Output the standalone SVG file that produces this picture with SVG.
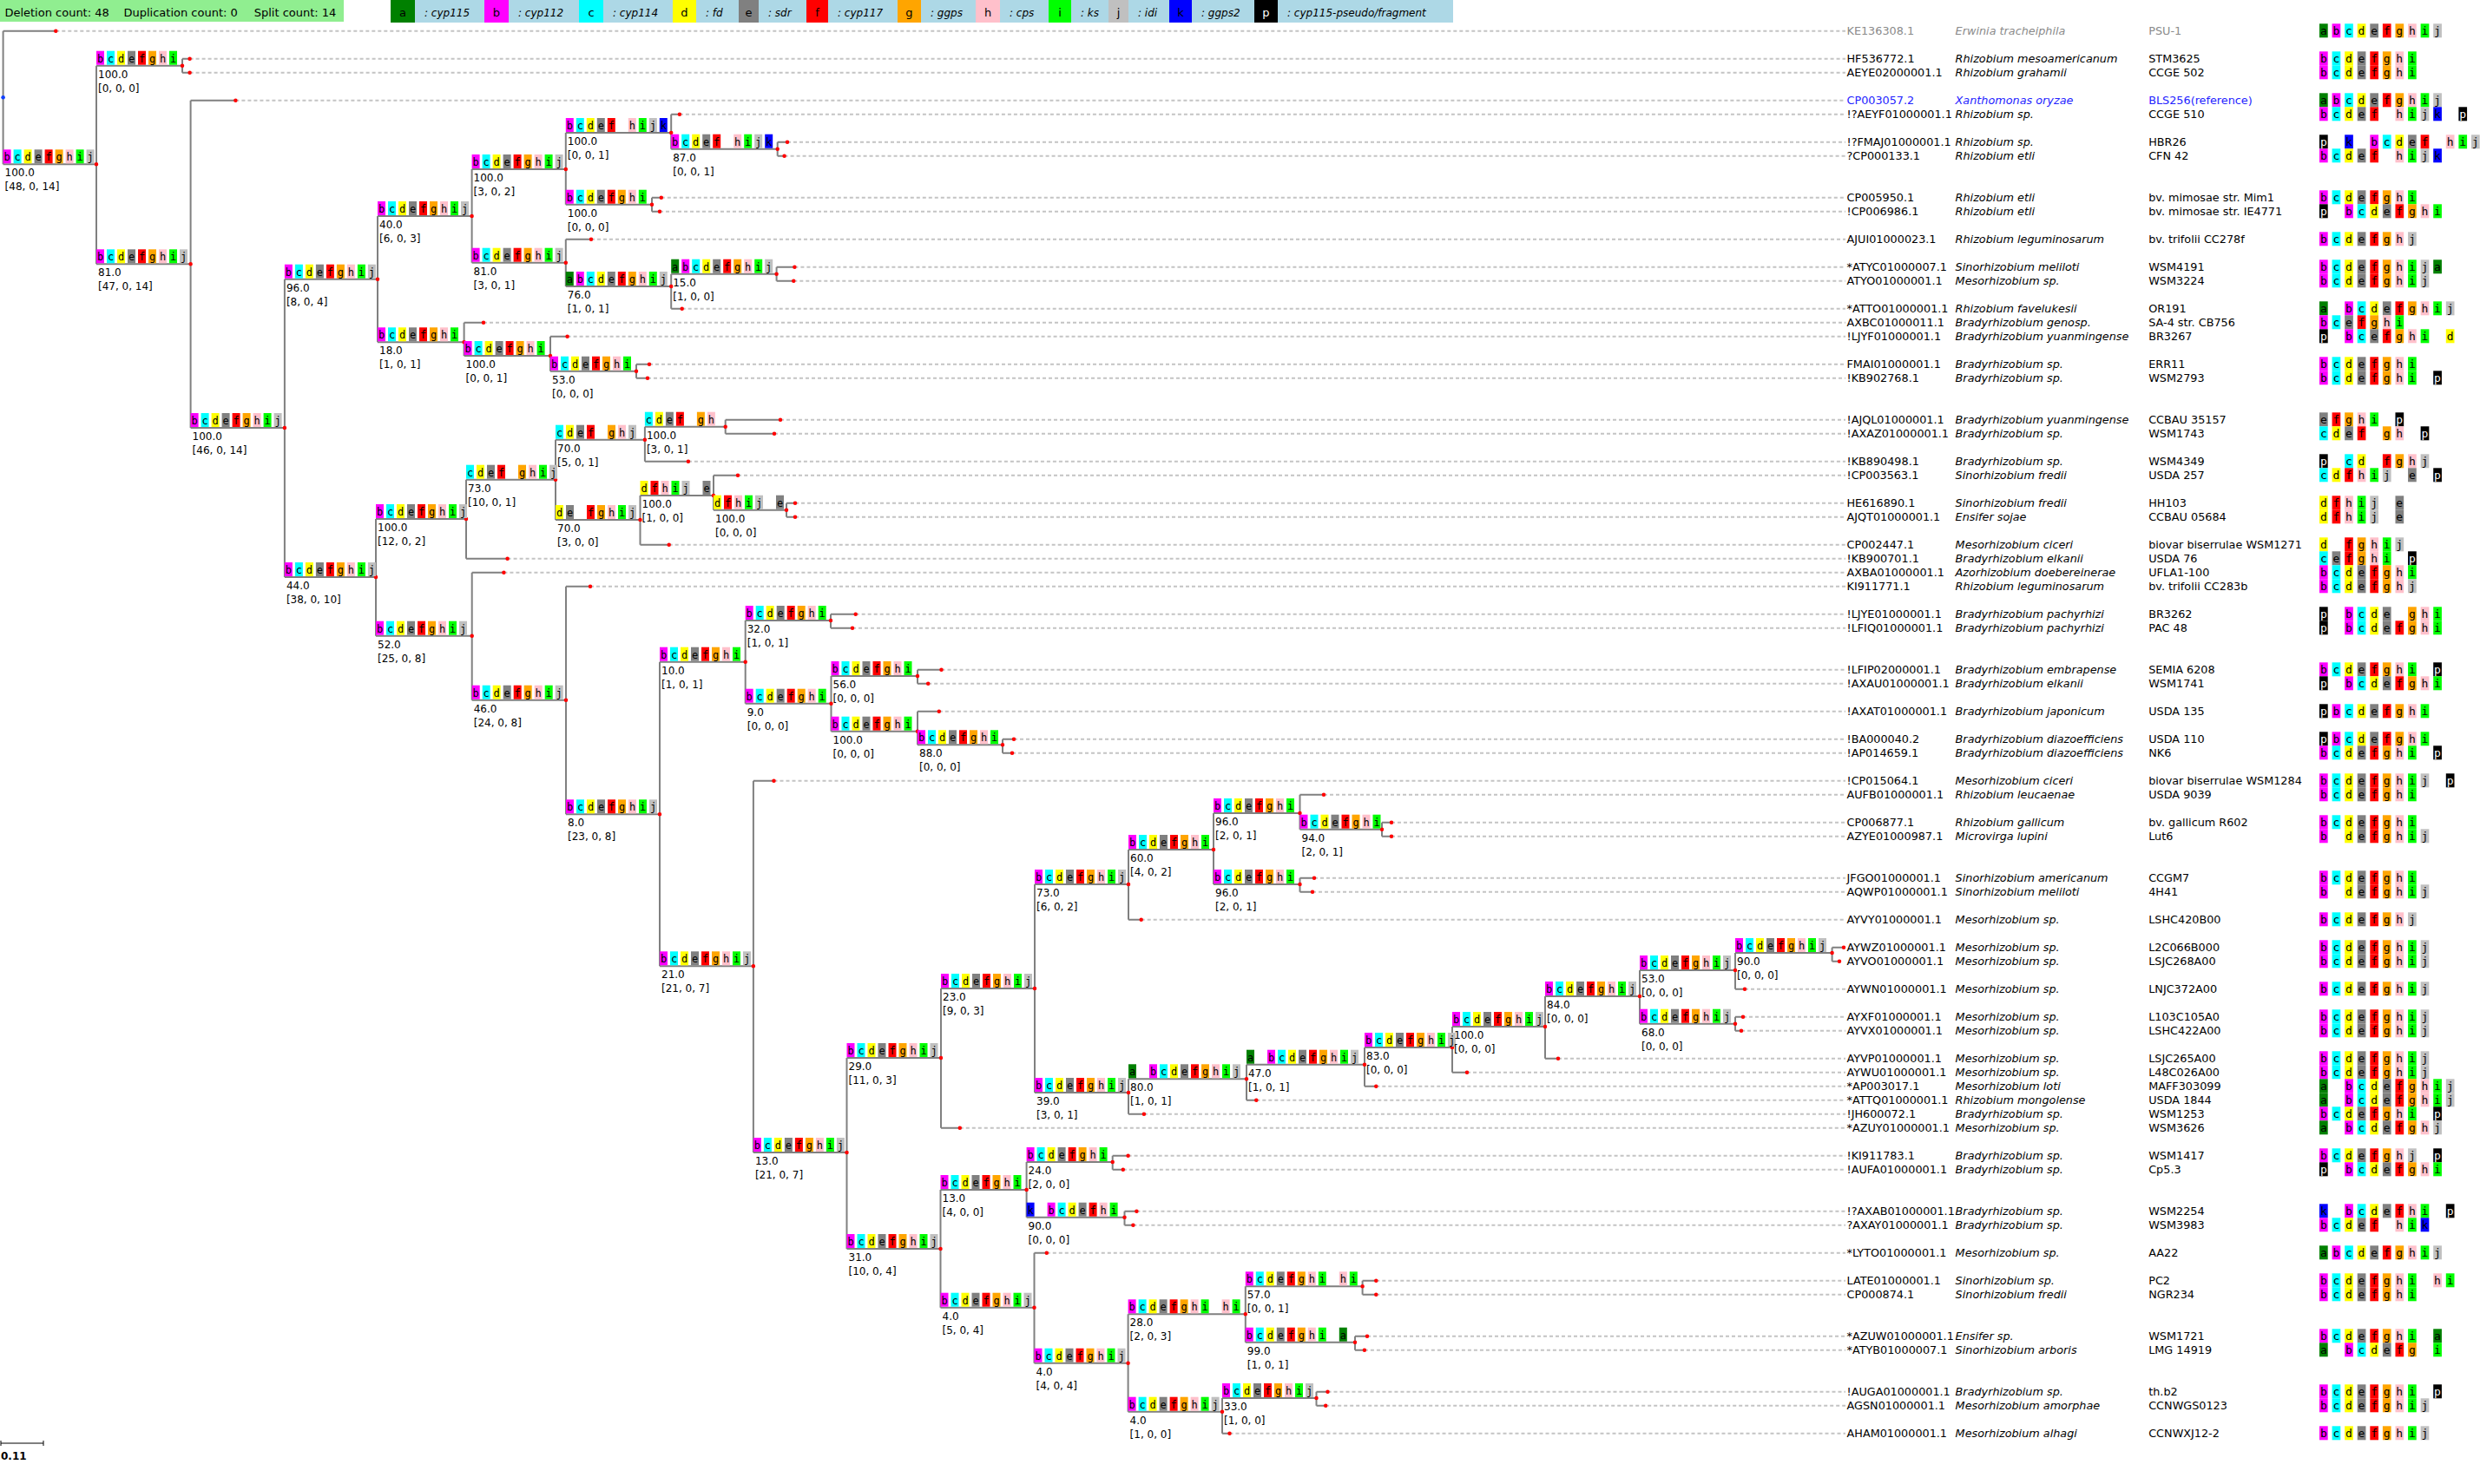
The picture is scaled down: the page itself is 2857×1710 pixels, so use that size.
<svg xmlns="http://www.w3.org/2000/svg" xmlns:xlink="http://www.w3.org/1999/xlink" width="2857" height="1710" viewBox="0 0 2857 1710">
<style>
text{font-family:"DejaVu Sans",Verdana,sans-serif;fill:#000}
.nt{font-size:12px}
.lt{font-size:12.8px}
.sp{font-style:italic}
.gr{fill:#8a8a8a}
.bl{fill:#2424ff}
.gl{font-family:"DejaVu Sans Mono",monospace;font-size:12px;letter-spacing:4.775px;white-space:pre}
.ll{font-family:"DejaVu Sans Mono",monospace;font-size:13px;letter-spacing:6.75px;white-space:pre}
.w{fill:#fff}
.hd{font-size:13px}
.lg{font-size:12px;font-style:italic}
.lc{font-size:13px;text-anchor:middle}
.e{stroke:#808080;stroke-width:2;fill:none}
.ds{stroke:#c4c4c4;stroke-width:2;stroke-dasharray:4 3;fill:none}
.dt{stroke:#f00;stroke-width:4.5;stroke-linecap:round;fill:none}
</style>
<defs>
<rect id="ma" width="9" height="16" fill="#008000"/><rect id="mb" width="9" height="16" fill="#f0f"/><rect id="mc" width="9" height="16" fill="#0ff"/><rect id="md" width="9" height="16" fill="#ff0"/><rect id="me" width="9" height="16" fill="#808080"/><rect id="mf" width="9" height="16" fill="#f00"/><rect id="mg" width="9" height="16" fill="#ffa500"/><rect id="mh" width="9" height="16" fill="#ffc0cb"/><rect id="mi" width="9" height="16" fill="#0f0"/><rect id="mj" width="9" height="16" fill="#c0c0c0"/><rect id="mk" width="9" height="16" fill="#00f"/><rect id="mp" width="9" height="16" fill="#000"/>
<rect id="la" width="9.7" height="16" fill="#008000"/><rect id="lb" width="9.7" height="16" fill="#f0f"/><rect id="lc" width="9.7" height="16" fill="#0ff"/><rect id="ld" width="9.7" height="16" fill="#ff0"/><rect id="le" width="9.7" height="16" fill="#808080"/><rect id="lf" width="9.7" height="16" fill="#f00"/><rect id="lg" width="9.7" height="16" fill="#ffa500"/><rect id="lh" width="9.7" height="16" fill="#ffc0cb"/><rect id="li" width="9.7" height="16" fill="#0f0"/><rect id="lj" width="9.7" height="16" fill="#c0c0c0"/><rect id="lk" width="9.7" height="16" fill="#00f"/><rect id="lp" width="9.7" height="16" fill="#000"/>
<g id="N8"><use href="#mb"/><use href="#mc" x="12"/><use href="#md" x="24"/><use href="#me" x="36"/><use href="#mf" x="48"/><use href="#mg" x="60"/><use href="#mh" x="72"/><use href="#mi" x="84"/></g>
<g id="N9"><use href="#N8"/><use href="#mj" x="96"/></g>
<g id="Nk"><use href="#mb"/><use href="#mc" x="12"/><use href="#md" x="24"/><use href="#me" x="36"/><use href="#mf" x="48"/><use href="#mh" x="72"/><use href="#mi" x="84"/><use href="#mj" x="96"/><use href="#mk" x="108"/></g>
<g id="Na"><use href="#ma"/><use href="#N9" x="12"/></g>
<g id="Nab"><use href="#ma"/><use href="#N9" x="24"/></g>
<g id="Nc9"><use href="#mc"/><use href="#md" x="12"/><use href="#me" x="24"/><use href="#mf" x="36"/><use href="#mg" x="60"/><use href="#mh" x="72"/><use href="#mi" x="84"/><use href="#mj" x="96"/></g>
<g id="Nc8"><use href="#mc"/><use href="#md" x="12"/><use href="#me" x="24"/><use href="#mf" x="36"/><use href="#mg" x="60"/><use href="#mh" x="72"/><use href="#mj" x="84"/></g>
<g id="Nc7"><use href="#mc"/><use href="#md" x="12"/><use href="#me" x="24"/><use href="#mf" x="36"/><use href="#mg" x="60"/><use href="#mh" x="72"/></g>
<g id="Nde"><use href="#md"/><use href="#me" x="12"/><use href="#mf" x="36"/><use href="#mg" x="48"/><use href="#mh" x="60"/><use href="#mi" x="72"/><use href="#mj" x="84"/></g>
<g id="Nd"><use href="#md"/><use href="#mf" x="12"/><use href="#mh" x="24"/><use href="#mi" x="36"/><use href="#mj" x="48"/><use href="#me" x="72"/></g>
<g id="Nkb"><use href="#mk"/><use href="#mb" x="24"/><use href="#mc" x="36"/><use href="#md" x="48"/><use href="#me" x="60"/><use href="#mf" x="72"/><use href="#mh" x="84"/><use href="#mi" x="96"/></g>
<g id="Nhi"><use href="#N8"/><use href="#mh" x="108"/><use href="#mi" x="120"/></g>
<g id="Nba"><use href="#N8"/><use href="#ma" x="108"/></g>
<g id="L8"><use href="#lb"/><use href="#lc" x="14.58"/><use href="#ld" x="29.16"/><use href="#le" x="43.74"/><use href="#lf" x="58.32"/><use href="#lg" x="72.9"/><use href="#lh" x="87.48"/><use href="#li" x="102.06"/></g>
<g id="L9"><use href="#L8"/><use href="#lj" x="116.64"/></g>
<g id="L10"><use href="#la"/><use href="#L9" x="14.58"/></g>
<g id="L8j"><use href="#lb"/><use href="#lc" x="14.58"/><use href="#ld" x="29.16"/><use href="#le" x="43.74"/><use href="#lf" x="58.32"/><use href="#lg" x="72.9"/><use href="#lh" x="87.48"/><use href="#lj" x="102.06"/></g>
<g id="LBp"><use href="#L8"/><use href="#lp" x="131.22"/></g>
<g id="LpB"><use href="#lp"/><use href="#L8" x="29.16"/></g>
<g id="LpC"><use href="#lp"/><use href="#L8" x="14.58"/></g>
<g id="LaB"><use href="#la"/><use href="#L9" x="29.16"/></g>
<g id="LA"><use href="#L9"/><use href="#la" x="131.22"/></g>
<g id="Lx10"><use href="#L9"/><use href="#lp" x="145.8"/></g>
<g id="Lbd"><use href="#lb"/><use href="#ld" x="29.16"/><use href="#le" x="43.74"/><use href="#lf" x="58.32"/><use href="#lg" x="72.9"/><use href="#lh" x="87.48"/><use href="#li" x="102.06"/><use href="#lj" x="116.64"/></g>
<g id="Lk3"><use href="#lb"/><use href="#lc" x="14.58"/><use href="#ld" x="29.16"/><use href="#le" x="43.74"/><use href="#lf" x="58.32"/><use href="#lh" x="87.48"/><use href="#li" x="102.06"/><use href="#lj" x="116.64"/><use href="#lk" x="131.22"/></g>
<g id="Lk1"><use href="#Lk3"/><use href="#lp" x="160.38"/></g>
<g id="Lk2"><use href="#lp"/><use href="#lk" x="29.16"/><use href="#lb" x="58.32"/><use href="#lc" x="72.9"/><use href="#ld" x="87.48"/><use href="#le" x="102.06"/><use href="#lf" x="116.64"/><use href="#lh" x="145.8"/><use href="#li" x="160.38"/><use href="#lj" x="174.96"/></g>
<g id="Lx1"><use href="#lb"/><use href="#lc" x="14.58"/><use href="#le" x="29.16"/><use href="#lf" x="43.74"/><use href="#lg" x="58.32"/><use href="#lh" x="72.9"/><use href="#li" x="87.48"/></g>
<g id="Lx2"><use href="#lp"/><use href="#Lx1" x="29.16"/><use href="#ld" x="145.8"/></g>
<g id="Lx3"><use href="#le"/><use href="#lf" x="14.58"/><use href="#lg" x="29.16"/><use href="#lh" x="43.74"/><use href="#li" x="58.32"/><use href="#lp" x="87.48"/></g>
<g id="Lx4"><use href="#lc"/><use href="#ld" x="14.58"/><use href="#le" x="29.16"/><use href="#lf" x="43.74"/><use href="#lg" x="72.9"/><use href="#lh" x="87.48"/><use href="#lp" x="116.64"/></g>
<g id="Lx5"><use href="#lp"/><use href="#lc" x="29.16"/><use href="#ld" x="43.74"/><use href="#lf" x="72.9"/><use href="#lg" x="87.48"/><use href="#lh" x="102.06"/><use href="#lj" x="116.64"/></g>
<g id="Lx6"><use href="#lc"/><use href="#ld" x="14.58"/><use href="#lf" x="29.16"/><use href="#lh" x="43.74"/><use href="#li" x="58.32"/><use href="#lj" x="72.9"/><use href="#le" x="102.06"/><use href="#lp" x="131.22"/></g>
<g id="Ld"><use href="#ld"/><use href="#lf" x="14.58"/><use href="#lh" x="29.16"/><use href="#li" x="43.74"/><use href="#lj" x="58.32"/><use href="#le" x="87.48"/></g>
<g id="Lx7"><use href="#ld"/><use href="#lf" x="29.16"/><use href="#lg" x="43.74"/><use href="#lh" x="58.32"/><use href="#li" x="72.9"/><use href="#lj" x="87.48"/></g>
<g id="Lx8"><use href="#lc"/><use href="#le" x="14.58"/><use href="#lf" x="29.16"/><use href="#lg" x="43.74"/><use href="#lh" x="58.32"/><use href="#li" x="72.9"/><use href="#lp" x="102.06"/></g>
<g id="Lx9"><use href="#lp"/><use href="#lb" x="29.16"/><use href="#lc" x="43.74"/><use href="#ld" x="58.32"/><use href="#le" x="72.9"/><use href="#lg" x="102.06"/><use href="#lh" x="116.64"/><use href="#li" x="131.22"/></g>
<g id="Lx11"><use href="#la"/><use href="#L8j" x="29.16"/></g>
<g id="Lx12"><use href="#L8j"/><use href="#lp" x="131.22"/></g>
<g id="Lx13"><use href="#lk"/><use href="#lb" x="29.16"/><use href="#lc" x="43.74"/><use href="#ld" x="58.32"/><use href="#le" x="72.9"/><use href="#lf" x="87.48"/><use href="#lh" x="102.06"/><use href="#li" x="116.64"/><use href="#lp" x="145.8"/></g>
<g id="Lx14"><use href="#lb"/><use href="#lc" x="14.58"/><use href="#ld" x="29.16"/><use href="#le" x="43.74"/><use href="#lf" x="58.32"/><use href="#lh" x="87.48"/><use href="#li" x="102.06"/><use href="#lk" x="116.64"/></g>
<g id="Lx15"><use href="#L8"/><use href="#lh" x="131.22"/><use href="#li" x="145.8"/></g>
<g id="Lx16"><use href="#L8"/><use href="#la" x="131.22"/></g>
<g id="Lx17"><use href="#la"/><use href="#lb" x="29.16"/><use href="#lc" x="43.74"/><use href="#ld" x="58.32"/><use href="#le" x="72.9"/><use href="#lf" x="87.48"/><use href="#lg" x="102.06"/><use href="#li" x="131.22"/></g>
</defs>
<rect width="2857" height="1710" fill="#fff"/>
<g id="header">
<rect x="0" y="0" width="396" height="25" fill="#90ee90"/>
<text class="hd" y="18.5"><tspan x="5.4">Deletion count: 48</tspan><tspan x="142.5">Duplication count: 0</tspan><tspan x="292.7">Split count: 14</tspan></text>
</g>
<g id="legend">
<rect x="450" y="0" width="28" height="26" fill="#008000"/><rect x="478" y="0" width="80" height="26" fill="#add8e6"/><text class="lc" x="464" y="18.5">a</text><text class="lg" x="489" y="18.5">: cyp115</text>
<rect x="558" y="0" width="28" height="26" fill="#f0f"/><rect x="586" y="0" width="81" height="26" fill="#add8e6"/><text class="lc" x="572" y="18.5">b</text><text class="lg" x="597" y="18.5">: cyp112</text>
<rect x="667" y="0" width="28" height="26" fill="#0ff"/><rect x="695" y="0" width="80" height="26" fill="#add8e6"/><text class="lc" x="681" y="18.5">c</text><text class="lg" x="706" y="18.5">: cyp114</text>
<rect x="775" y="0" width="27" height="26" fill="#ff0"/><rect x="802" y="0" width="49" height="26" fill="#add8e6"/><text class="lc" x="788.5" y="18.5">d</text><text class="lg" x="813" y="18.5">: fd</text>
<rect x="851" y="0" width="23" height="26" fill="#808080"/><rect x="874" y="0" width="55" height="26" fill="#add8e6"/><text class="lc" x="862.5" y="18.5">e</text><text class="lg" x="885" y="18.5">: sdr</text>
<rect x="929" y="0" width="25" height="26" fill="#f00"/><rect x="954" y="0" width="80" height="26" fill="#add8e6"/><text class="lc" x="941.5" y="18.5">f</text><text class="lg" x="965" y="18.5">: cyp117</text>
<rect x="1034" y="0" width="27" height="26" fill="#ffa500"/><rect x="1061" y="0" width="63" height="26" fill="#add8e6"/><text class="lc" x="1047.5" y="18.5">g</text><text class="lg" x="1072" y="18.5">: ggps</text>
<rect x="1124" y="0" width="28" height="26" fill="#ffc0cb"/><rect x="1152" y="0" width="56" height="26" fill="#add8e6"/><text class="lc" x="1138" y="18.5">h</text><text class="lg" x="1163" y="18.5">: cps</text>
<rect x="1208" y="0" width="26" height="26" fill="#0f0"/><rect x="1234" y="0" width="43" height="26" fill="#add8e6"/><text class="lc" x="1221" y="18.5">i</text><text class="lg" x="1245" y="18.5">: ks</text>
<rect x="1277" y="0" width="23" height="26" fill="#c0c0c0"/><rect x="1300" y="0" width="47" height="26" fill="#add8e6"/><text class="lc" x="1288.5" y="18.5">j</text><text class="lg" x="1311" y="18.5">: idi</text>
<rect x="1347" y="0" width="26" height="26" fill="#00f"/><rect x="1373" y="0" width="72" height="26" fill="#add8e6"/><text class="lc" x="1360" y="18.5">k</text><text class="lg" x="1384" y="18.5">: ggps2</text>
<rect x="1445" y="0" width="27" height="26" fill="#000"/><rect x="1472" y="0" width="202" height="26" fill="#add8e6"/><text class="lc w" x="1458.5" y="18.5">p</text><text class="lg" x="1483" y="18.5">: cyp115-pseudo/fragment</text>
</g>
<g id="connectors">
<path class="ds" d="M64.3,35.7H2126M218.6,67.7H2126M218.6,83.7H2126M271.4,115.7H2126M782.9,131.7H2126M907,163.7H2126M903.6,179.7H2126M761.8,227.7H2126M760,243.7H2126M681,275.7H2126M915.4,307.7H2126M914.3,323.7H2126M785.7,355.7H2126M557,371.7H2126M653.6,387.7H2126M748,419.7H2126M746,435.7H2126M899,483.7H2126M892,499.7H2126M792.9,531.7H2126M850,547.7H2126M916,579.7H2126M916,595.7H2126M770.7,627.7H2126M584.6,643.7H2126M580.4,659.7H2126M680,675.7H2126M985.7,707.7H2126M982,723.7H2126M1084.5,771.7H2126M1069.2,787.7H2126M1081.8,819.7H2126M1168,851.7H2126M1166,867.7H2126M891.5,899.7H2126M1525,915.7H2126M1603,947.7H2126M1603,963.7H2126M1514,1011.7H2126M1512,1027.7H2126M1314.7,1059.7H2126M2010,1139.7H2126M2008,1171.7H2126M2006,1187.7H2126M1795,1219.7H2126M1690,1235.7H2126M1585.3,1251.7H2126M1447.3,1267.7H2126M1317.9,1283.7H2126M1105.8,1299.7H2126M1299.6,1331.7H2126M1293.8,1347.7H2126M1309.4,1395.7H2126M1305.4,1411.7H2126M1205.8,1443.7H2126M1585.3,1475.7H2126M1585.3,1491.7H2126M1575,1539.7H2126M1571.9,1555.7H2126M1529.5,1603.7H2126M1527.2,1619.7H2126M1416.5,1651.7H2126"/>
<path class="e" d="M3.6,35.7V189.3M3.6,35.7H64.3M3.6,189.3H111"/>
<path class="e" d="M111,75.7V304.3M111,75.7H210M111,304.3H219.6"/>
<path class="e" d="M210,67.7V83.7M210,67.7H218.6M210,83.7H218.6"/>
<path class="e" d="M219.6,115.7V493M219.6,115.7H271.4M219.6,493H327.9"/>
<path class="e" d="M327.9,321.7V665M327.9,321.7H435M327.9,665H433"/>
<path class="e" d="M435,249V394.3M435,249H543.6M435,394.3H534.6"/>
<path class="e" d="M543.6,195V302.7M543.6,195H651.8M543.6,302.7H651.8"/>
<path class="e" d="M651.8,153V235.7M651.8,153H773.2M651.8,235.7H751"/>
<path class="e" d="M773.2,131.7V171.7M773.2,131.7H782.9M773.2,171.7H895.7"/>
<path class="e" d="M895.7,163.7V179.7M895.7,163.7H907M895.7,179.7H903.6"/>
<path class="e" d="M751,227.7V243.7M751,227.7H761.8M751,243.7H760"/>
<path class="e" d="M651.8,275.7V330M651.8,275.7H681M651.8,330H773.2"/>
<path class="e" d="M773.2,315.7V355.7M773.2,315.7H894.6M773.2,355.7H785.7"/>
<path class="e" d="M894.6,307.7V323.7M894.6,307.7H915.4M894.6,323.7H914.3"/>
<path class="e" d="M534.6,371.7V410M534.6,371.7H557M534.6,410H634"/>
<path class="e" d="M634,387.7V427.7M634,387.7H653.6M634,427.7H733"/>
<path class="e" d="M733,419.7V435.7M733,419.7H748M733,435.7H746"/>
<path class="e" d="M433,598V732.7M433,598H537M433,732.7H543.7"/>
<path class="e" d="M537,552.7V643.7M537,552.7H640M537,643.7H584.6"/>
<path class="e" d="M640,506.7V599M640,506.7H742.9M640,599H737.5"/>
<path class="e" d="M742.9,491.7V531.7M742.9,491.7H835.7M742.9,531.7H792.9"/>
<path class="e" d="M835.7,483.7V499.7M835.7,483.7H899M835.7,499.7H892"/>
<path class="e" d="M737.5,571V627.7M737.5,571H822M737.5,627.7H770.7"/>
<path class="e" d="M822,547.7V587.7M822,547.7H850M822,587.7H906"/>
<path class="e" d="M906,579.7V595.7M906,579.7H916M906,595.7H916"/>
<path class="e" d="M543.7,659.7V806.7M543.7,659.7H580.4M543.7,806.7H652"/>
<path class="e" d="M652,675.7V938.3M652,675.7H680M652,938.3H760"/>
<path class="e" d="M760,762.7V1113.3M760,762.7H858.7M760,1113.3H867.9"/>
<path class="e" d="M858.7,715V810.7M858.7,715H957M858.7,810.7H957.5"/>
<path class="e" d="M957,707.7V723.7M957,707.7H985.7M957,723.7H982"/>
<path class="e" d="M957.5,779V842.7M957.5,779H1057M957.5,842.7H1057"/>
<path class="e" d="M1057,771.7V787.7M1057,771.7H1084.5M1057,787.7H1069.2"/>
<path class="e" d="M1057,819.7V858.3M1057,819.7H1081.8M1057,858.3H1155"/>
<path class="e" d="M1155,851.7V867.7M1155,851.7H1168M1155,867.7H1166"/>
<path class="e" d="M867.9,899.7V1328M867.9,899.7H891.5M867.9,1328H975.5"/>
<path class="e" d="M975.5,1219V1439M975.5,1219H1084M975.5,1439H1083.5"/>
<path class="e" d="M1084,1139V1299.7M1084,1139H1192M1084,1299.7H1105.8"/>
<path class="e" d="M1192,1019V1259M1192,1019H1300M1192,1259H1300"/>
<path class="e" d="M1300,979V1059.7M1300,979H1398M1300,1059.7H1314.7"/>
<path class="e" d="M1398,937V1019M1398,937H1497.5M1398,1019H1497.5"/>
<path class="e" d="M1497.5,915.7V955.7M1497.5,915.7H1525M1497.5,955.7H1592"/>
<path class="e" d="M1592,947.7V963.7M1592,947.7H1603M1592,963.7H1603"/>
<path class="e" d="M1497.5,1011.7V1027.7M1497.5,1011.7H1514M1497.5,1027.7H1512"/>
<path class="e" d="M1300,1243.3V1283.7M1300,1243.3H1436M1300,1283.7H1317.9"/>
<path class="e" d="M1436,1226.7V1267.7M1436,1226.7H1572M1436,1267.7H1447.3"/>
<path class="e" d="M1572,1207V1251.7M1572,1207H1673M1572,1251.7H1585.3"/>
<path class="e" d="M1673,1183V1235.7M1673,1183H1780M1673,1235.7H1690"/>
<path class="e" d="M1780,1148V1219.7M1780,1148H1889M1780,1219.7H1795"/>
<path class="e" d="M1889,1118V1179.7M1889,1118H1999M1889,1179.7H1999"/>
<path class="e" d="M1999,1098V1139.7M1999,1098H2110.6M1999,1139.7H2010"/>
<path class="e" d="M2110.6,1091.7V1107.7M2110.6,1091.7H2124M2110.6,1107.7H2119"/>
<path class="e" d="M1999,1171.7V1187.7M1999,1171.7H2008M1999,1187.7H2006"/>
<path class="e" d="M1083.5,1371V1506.7M1083.5,1371H1182.6M1083.5,1506.7H1191.5"/>
<path class="e" d="M1182.6,1339V1402.7M1182.6,1339H1281.7M1182.6,1402.7H1295.5"/>
<path class="e" d="M1281.7,1331.7V1347.7M1281.7,1331.7H1299.6M1281.7,1347.7H1293.8"/>
<path class="e" d="M1295.5,1395.7V1411.7M1295.5,1395.7H1309.4M1295.5,1411.7H1305.4"/>
<path class="e" d="M1191.5,1443.7V1570.7M1191.5,1443.7H1205.8M1191.5,1570.7H1299.6"/>
<path class="e" d="M1299.6,1514.3V1626.7M1299.6,1514.3H1434.8M1299.6,1626.7H1408"/>
<path class="e" d="M1434.8,1482.3V1546.7M1434.8,1482.3H1569.6M1434.8,1546.7H1561"/>
<path class="e" d="M1569.6,1475.7V1491.7M1569.6,1475.7H1585.3M1569.6,1491.7H1585.3"/>
<path class="e" d="M1561,1539.7V1555.7M1561,1539.7H1575M1561,1555.7H1571.9"/>
<path class="e" d="M1408,1611V1651.7M1408,1611H1516.5M1408,1651.7H1416.5"/>
<path class="e" d="M1516.5,1603.7V1619.7M1516.5,1603.7H1529.5M1516.5,1619.7H1527.2"/>
<path class="dt" d="M111,189.3h0M210,75.7h0M219.6,304.3h0M327.9,493h0M435,321.7h0M433,665h0M543.6,249h0M534.6,394.3h0M651.8,195h0M651.8,302.7h0M773.2,153h0M895.7,171.7h0M751,235.7h0M773.2,330h0M894.6,315.7h0M634,410h0M733,427.7h0M537,598h0M640,552.7h0M742.9,506.7h0M835.7,491.7h0M737.5,599h0M822,571h0M906,587.7h0M543.7,732.7h0M652,806.7h0M760,938.3h0M858.7,762.7h0M957,715h0M957.5,810.7h0M1057,779h0M1057,842.7h0M1155,858.3h0M867.9,1113.3h0M975.5,1328h0M1084,1219h0M1192,1139h0M1300,1019h0M1398,979h0M1497.5,937h0M1592,955.7h0M1497.5,1019h0M1300,1259h0M1436,1243.3h0M1572,1226.7h0M1673,1207h0M1780,1183h0M1889,1148h0M1999,1118h0M2110.6,1098h0M1999,1179.7h0M1083.5,1439h0M1182.6,1371h0M1281.7,1339h0M1295.5,1402.7h0M1191.5,1506.7h0M1299.6,1570.7h0M1434.8,1514.3h0M1569.6,1482.3h0M1561,1546.7h0M1408,1626.7h0M1516.5,1611h0M64.3,35.7h0M218.6,67.7h0M218.6,83.7h0M271.4,115.7h0M782.9,131.7h0M907,163.7h0M903.6,179.7h0M761.8,227.7h0M760,243.7h0M681,275.7h0M915.4,307.7h0M914.3,323.7h0M785.7,355.7h0M557,371.7h0M653.6,387.7h0M748,419.7h0M746,435.7h0M899,483.7h0M892,499.7h0M792.9,531.7h0M850,547.7h0M916,579.7h0M916,595.7h0M770.7,627.7h0M584.6,643.7h0M580.4,659.7h0M680,675.7h0M985.7,707.7h0M982,723.7h0M1084.5,771.7h0M1069.2,787.7h0M1081.8,819.7h0M1168,851.7h0M1166,867.7h0M891.5,899.7h0M1525,915.7h0M1603,947.7h0M1603,963.7h0M1514,1011.7h0M1512,1027.7h0M1314.7,1059.7h0M2124,1091.7h0M2119,1107.7h0M2010,1139.7h0M2008,1171.7h0M2006,1187.7h0M1795,1219.7h0M1690,1235.7h0M1585.3,1251.7h0M1447.3,1267.7h0M1317.9,1283.7h0M1105.8,1299.7h0M1299.6,1331.7h0M1293.8,1347.7h0M1309.4,1395.7h0M1305.4,1411.7h0M1205.8,1443.7h0M1585.3,1475.7h0M1585.3,1491.7h0M1575,1539.7h0M1571.9,1555.7h0M1529.5,1603.7h0M1527.2,1619.7h0M1416.5,1651.7h0"/>
<circle cx="3.6" cy="112.3" r="2.3" fill="#1040ff"/>
</g>
<g id="n1" transform="translate(3.6,189.3)"><use href="#N9" y="-17"/><text class="gl" x=".9" y="-4">bcdefghij</text><text class="nt" x="2" y="14">100.0</text><text class="nt" x="2" y="30">[48, 0, 14]</text></g>
<g id="n2" transform="translate(111,75.7)"><use href="#N8" y="-17"/><text class="gl" x=".9" y="-4">bcdefghi</text><text class="nt" x="2" y="14">100.0</text><text class="nt" x="2" y="30">[0, 0, 0]</text></g>
<g id="n3" transform="translate(111,304.3)"><use href="#N9" y="-17"/><text class="gl" x=".9" y="-4">bcdefghij</text><text class="nt" x="2" y="14">81.0</text><text class="nt" x="2" y="30">[47, 0, 14]</text></g>
<g id="n4" transform="translate(219.6,493)"><use href="#N9" y="-17"/><text class="gl" x=".9" y="-4">bcdefghij</text><text class="nt" x="2" y="14">100.0</text><text class="nt" x="2" y="30">[46, 0, 14]</text></g>
<g id="n5" transform="translate(327.9,321.7)"><use href="#N9" y="-17"/><text class="gl" x=".9" y="-4">bcdefghij</text><text class="nt" x="2" y="14">96.0</text><text class="nt" x="2" y="30">[8, 0, 4]</text></g>
<g id="n6" transform="translate(327.9,665)"><use href="#N9" y="-17"/><text class="gl" x=".9" y="-4">bcdefghij</text><text class="nt" x="2" y="14">44.0</text><text class="nt" x="2" y="30">[38, 0, 10]</text></g>
<g id="n7" transform="translate(435,249)"><use href="#N9" y="-17"/><text class="gl" x=".9" y="-4">bcdefghij</text><text class="nt" x="2" y="14">40.0</text><text class="nt" x="2" y="30">[6, 0, 3]</text></g>
<g id="n8" transform="translate(435,394.3)"><use href="#N8" y="-17"/><text class="gl" x=".9" y="-4">bcdefghi</text><text class="nt" x="2" y="14">18.0</text><text class="nt" x="2" y="30">[1, 0, 1]</text></g>
<g id="n9" transform="translate(543.6,195)"><use href="#N9" y="-17"/><text class="gl" x=".9" y="-4">bcdefghij</text><text class="nt" x="2" y="14">100.0</text><text class="nt" x="2" y="30">[3, 0, 2]</text></g>
<g id="n10" transform="translate(543.6,302.7)"><use href="#N9" y="-17"/><text class="gl" x=".9" y="-4">bcdefghij</text><text class="nt" x="2" y="14">81.0</text><text class="nt" x="2" y="30">[3, 0, 1]</text></g>
<g id="n11" transform="translate(651.8,153)"><use href="#Nk" y="-17"/><text class="gl" x=".9" y="-4">bcdef hijk</text><text class="nt" x="2" y="14">100.0</text><text class="nt" x="2" y="30">[0, 0, 1]</text></g>
<g id="n12" transform="translate(773.2,171.7)"><use href="#Nk" y="-17"/><text class="gl" x=".9" y="-4">bcdef hijk</text><text class="nt" x="2" y="14">87.0</text><text class="nt" x="2" y="30">[0, 0, 1]</text></g>
<g id="n13" transform="translate(651.8,235.7)"><use href="#N8" y="-17"/><text class="gl" x=".9" y="-4">bcdefghi</text><text class="nt" x="2" y="14">100.0</text><text class="nt" x="2" y="30">[0, 0, 0]</text></g>
<g id="n14" transform="translate(651.8,330)"><use href="#Na" y="-17"/><text class="gl" x=".9" y="-4">abcdefghij</text><text class="nt" x="2" y="14">76.0</text><text class="nt" x="2" y="30">[1, 0, 1]</text></g>
<g id="n15" transform="translate(773.2,315.7)"><use href="#Na" y="-17"/><text class="gl" x=".9" y="-4">abcdefghij</text><text class="nt" x="2" y="14">15.0</text><text class="nt" x="2" y="30">[1, 0, 0]</text></g>
<g id="n16" transform="translate(534.6,410)"><use href="#N8" y="-17"/><text class="gl" x=".9" y="-4">bcdefghi</text><text class="nt" x="2" y="14">100.0</text><text class="nt" x="2" y="30">[0, 0, 1]</text></g>
<g id="n17" transform="translate(634,427.7)"><use href="#N8" y="-17"/><text class="gl" x=".9" y="-4">bcdefghi</text><text class="nt" x="2" y="14">53.0</text><text class="nt" x="2" y="30">[0, 0, 0]</text></g>
<g id="n25" transform="translate(433,598)"><use href="#N9" y="-17"/><text class="gl" x=".9" y="-4">bcdefghij</text><text class="nt" x="2" y="14">100.0</text><text class="nt" x="2" y="30">[12, 0, 2]</text></g>
<g id="n26" transform="translate(537,552.7)"><use href="#Nc9" y="-17"/><text class="gl" x=".9" y="-4">cdef ghij</text><text class="nt" x="2" y="14">73.0</text><text class="nt" x="2" y="30">[10, 0, 1]</text></g>
<g id="n19" transform="translate(640,506.7)"><use href="#Nc8" y="-17"/><text class="gl" x=".9" y="-4">cdef ghj</text><text class="nt" x="2" y="14">70.0</text><text class="nt" x="2" y="30">[5, 0, 1]</text></g>
<g id="n18" transform="translate(742.9,491.7)"><use href="#Nc7" y="-17"/><text class="gl" x=".9" y="-4">cdef gh</text><text class="nt" x="2" y="14">100.0</text><text class="nt" x="2" y="30">[3, 0, 1]</text></g>
<g id="n20" transform="translate(640,599)"><use href="#Nde" y="-17"/><text class="gl" x=".9" y="-4">de fghij</text><text class="nt" x="2" y="14">70.0</text><text class="nt" x="2" y="30">[3, 0, 0]</text></g>
<g id="n21" transform="translate(737.5,571)"><use href="#Nd" y="-17"/><text class="gl" x=".9" y="-4">dfhij e</text><text class="nt" x="2" y="14">100.0</text><text class="nt" x="2" y="30">[1, 0, 0]</text></g>
<g id="n22" transform="translate(822,587.7)"><use href="#Nd" y="-17"/><text class="gl" x=".9" y="-4">dfhij e</text><text class="nt" x="2" y="14">100.0</text><text class="nt" x="2" y="30">[0, 0, 0]</text></g>
<g id="n27" transform="translate(433,732.7)"><use href="#N9" y="-17"/><text class="gl" x=".9" y="-4">bcdefghij</text><text class="nt" x="2" y="14">52.0</text><text class="nt" x="2" y="30">[25, 0, 8]</text></g>
<g id="n24" transform="translate(543.7,806.7)"><use href="#N9" y="-17"/><text class="gl" x=".9" y="-4">bcdefghij</text><text class="nt" x="2" y="14">46.0</text><text class="nt" x="2" y="30">[24, 0, 8]</text></g>
<g id="n28" transform="translate(652,938.3)"><use href="#N9" y="-17"/><text class="gl" x=".9" y="-4">bcdefghij</text><text class="nt" x="2" y="14">8.0</text><text class="nt" x="2" y="30">[23, 0, 8]</text></g>
<g id="n29" transform="translate(760,762.7)"><use href="#N8" y="-17"/><text class="gl" x=".9" y="-4">bcdefghi</text><text class="nt" x="2" y="14">10.0</text><text class="nt" x="2" y="30">[1, 0, 1]</text></g>
<g id="n31" transform="translate(858.7,715)"><use href="#N8" y="-17"/><text class="gl" x=".9" y="-4">bcdefghi</text><text class="nt" x="2" y="14">32.0</text><text class="nt" x="2" y="30">[1, 0, 1]</text></g>
<g id="n32" transform="translate(858.7,810.7)"><use href="#N8" y="-17"/><text class="gl" x=".9" y="-4">bcdefghi</text><text class="nt" x="2" y="14">9.0</text><text class="nt" x="2" y="30">[0, 0, 0]</text></g>
<g id="n33" transform="translate(957.5,779)"><use href="#N8" y="-17"/><text class="gl" x=".9" y="-4">bcdefghi</text><text class="nt" x="2" y="14">56.0</text><text class="nt" x="2" y="30">[0, 0, 0]</text></g>
<g id="n34" transform="translate(957.5,842.7)"><use href="#N8" y="-17"/><text class="gl" x=".9" y="-4">bcdefghi</text><text class="nt" x="2" y="14">100.0</text><text class="nt" x="2" y="30">[0, 0, 0]</text></g>
<g id="n35" transform="translate(1057,858.3)"><use href="#N8" y="-17"/><text class="gl" x=".9" y="-4">bcdefghi</text><text class="nt" x="2" y="14">88.0</text><text class="nt" x="2" y="30">[0, 0, 0]</text></g>
<g id="n30" transform="translate(760,1113.3)"><use href="#N9" y="-17"/><text class="gl" x=".9" y="-4">bcdefghij</text><text class="nt" x="2" y="14">21.0</text><text class="nt" x="2" y="30">[21, 0, 7]</text></g>
<g id="n36" transform="translate(867.9,1328)"><use href="#N9" y="-17"/><text class="gl" x=".9" y="-4">bcdefghij</text><text class="nt" x="2" y="14">13.0</text><text class="nt" x="2" y="30">[21, 0, 7]</text></g>
<g id="n37" transform="translate(975.5,1219)"><use href="#N9" y="-17"/><text class="gl" x=".9" y="-4">bcdefghij</text><text class="nt" x="2" y="14">29.0</text><text class="nt" x="2" y="30">[11, 0, 3]</text></g>
<g id="n38" transform="translate(1084,1139)"><use href="#N9" y="-17"/><text class="gl" x=".9" y="-4">bcdefghij</text><text class="nt" x="2" y="14">23.0</text><text class="nt" x="2" y="30">[9, 0, 3]</text></g>
<g id="n39" transform="translate(1192,1019)"><use href="#N9" y="-17"/><text class="gl" x=".9" y="-4">bcdefghij</text><text class="nt" x="2" y="14">73.0</text><text class="nt" x="2" y="30">[6, 0, 2]</text></g>
<g id="n41" transform="translate(1300,979)"><use href="#N8" y="-17"/><text class="gl" x=".9" y="-4">bcdefghi</text><text class="nt" x="2" y="14">60.0</text><text class="nt" x="2" y="30">[4, 0, 2]</text></g>
<g id="n42" transform="translate(1398,937)"><use href="#N8" y="-17"/><text class="gl" x=".9" y="-4">bcdefghi</text><text class="nt" x="2" y="14">96.0</text><text class="nt" x="2" y="30">[2, 0, 1]</text></g>
<g id="n59" transform="translate(1497.5,955.7)"><use href="#N8" y="-17"/><text class="gl" x=".9" y="-4">bcdefghi</text><text class="nt" x="2" y="14">94.0</text><text class="nt" x="2" y="30">[2, 0, 1]</text></g>
<g id="n43" transform="translate(1398,1019)"><use href="#N8" y="-17"/><text class="gl" x=".9" y="-4">bcdefghi</text><text class="nt" x="2" y="14">96.0</text><text class="nt" x="2" y="30">[2, 0, 1]</text></g>
<g id="n40" transform="translate(1192,1259)"><use href="#N9" y="-17"/><text class="gl" x=".9" y="-4">bcdefghij</text><text class="nt" x="2" y="14">39.0</text><text class="nt" x="2" y="30">[3, 0, 1]</text></g>
<g id="n44" transform="translate(1300,1243.3)"><use href="#Nab" y="-17"/><text class="gl" x=".9" y="-4">a bcdefghij</text><text class="nt" x="2" y="14">80.0</text><text class="nt" x="2" y="30">[1, 0, 1]</text></g>
<g id="n45" transform="translate(1436,1226.7)"><use href="#Nab" y="-17"/><text class="gl" x=".9" y="-4">a bcdefghij</text><text class="nt" x="2" y="14">47.0</text><text class="nt" x="2" y="30">[1, 0, 1]</text></g>
<g id="n46" transform="translate(1572,1207)"><use href="#N9" y="-17"/><text class="gl" x=".9" y="-4">bcdefghij</text><text class="nt" x="2" y="14">83.0</text><text class="nt" x="2" y="30">[0, 0, 0]</text></g>
<g id="n47" transform="translate(1673,1183)"><use href="#N9" y="-17"/><text class="gl" x=".9" y="-4">bcdefghij</text><text class="nt" x="2" y="14">100.0</text><text class="nt" x="2" y="30">[0, 0, 0]</text></g>
<g id="n60" transform="translate(1780,1148)"><use href="#N9" y="-17"/><text class="gl" x=".9" y="-4">bcdefghij</text><text class="nt" x="2" y="14">84.0</text><text class="nt" x="2" y="30">[0, 0, 0]</text></g>
<g id="n61" transform="translate(1889,1118)"><use href="#N9" y="-17"/><text class="gl" x=".9" y="-4">bcdefghij</text><text class="nt" x="2" y="14">53.0</text><text class="nt" x="2" y="30">[0, 0, 0]</text></g>
<g id="n63" transform="translate(1999,1098)"><use href="#N9" y="-17"/><text class="gl" x=".9" y="-4">bcdefghij</text><text class="nt" x="2" y="14">90.0</text><text class="nt" x="2" y="30">[0, 0, 0]</text></g>
<g id="n62" transform="translate(1889,1179.7)"><use href="#N9" y="-17"/><text class="gl" x=".9" y="-4">bcdefghij</text><text class="nt" x="2" y="14">68.0</text><text class="nt" x="2" y="30">[0, 0, 0]</text></g>
<g id="n48" transform="translate(975.5,1439)"><use href="#N9" y="-17"/><text class="gl" x=".9" y="-4">bcdefghij</text><text class="nt" x="2" y="14">31.0</text><text class="nt" x="2" y="30">[10, 0, 4]</text></g>
<g id="n49" transform="translate(1083.5,1371)"><use href="#N8" y="-17"/><text class="gl" x=".9" y="-4">bcdefghi</text><text class="nt" x="2" y="14">13.0</text><text class="nt" x="2" y="30">[4, 0, 0]</text></g>
<g id="n51" transform="translate(1182.6,1339)"><use href="#N8" y="-17"/><text class="gl" x=".9" y="-4">bcdefghi</text><text class="nt" x="2" y="14">24.0</text><text class="nt" x="2" y="30">[2, 0, 0]</text></g>
<g id="n52" transform="translate(1182.6,1402.7)"><use href="#Nkb" y="-17"/><text class="gl" x=".9" y="-4">k bcdefhi</text><text class="nt" x="2" y="14">90.0</text><text class="nt" x="2" y="30">[0, 0, 0]</text></g>
<g id="n50" transform="translate(1083.5,1506.7)"><use href="#N9" y="-17"/><text class="gl" x=".9" y="-4">bcdefghij</text><text class="nt" x="2" y="14">4.0</text><text class="nt" x="2" y="30">[5, 0, 4]</text></g>
<g id="n53" transform="translate(1191.5,1570.7)"><use href="#N9" y="-17"/><text class="gl" x=".9" y="-4">bcdefghij</text><text class="nt" x="2" y="14">4.0</text><text class="nt" x="2" y="30">[4, 0, 4]</text></g>
<g id="n54" transform="translate(1299.6,1514.3)"><use href="#Nhi" y="-17"/><text class="gl" x=".9" y="-4">bcdefghi hi</text><text class="nt" x="2" y="14">28.0</text><text class="nt" x="2" y="30">[2, 0, 3]</text></g>
<g id="n56" transform="translate(1434.8,1482.3)"><use href="#Nhi" y="-17"/><text class="gl" x=".9" y="-4">bcdefghi hi</text><text class="nt" x="2" y="14">57.0</text><text class="nt" x="2" y="30">[0, 0, 1]</text></g>
<g id="n57" transform="translate(1434.8,1546.7)"><use href="#Nba" y="-17"/><text class="gl" x=".9" y="-4">bcdefghi a</text><text class="nt" x="2" y="14">99.0</text><text class="nt" x="2" y="30">[1, 0, 1]</text></g>
<g id="n55" transform="translate(1299.6,1626.7)"><use href="#N9" y="-17"/><text class="gl" x=".9" y="-4">bcdefghij</text><text class="nt" x="2" y="14">4.0</text><text class="nt" x="2" y="30">[1, 0, 0]</text></g>
<g id="n58" transform="translate(1408,1611)"><use href="#N9" y="-17"/><text class="gl" x=".9" y="-4">bcdefghij</text><text class="nt" x="2" y="14">33.0</text><text class="nt" x="2" y="30">[1, 0, 0]</text></g>
<g id="KE136308" transform="translate(0,35.7)"><text class="lt gr" x="2127.5" y="4.5">KE136308.1</text><text class="lt sp gr" x="2252.6" y="4.5">Erwinia tracheiphila</text><text class="lt gr" x="2475.2" y="4.5">PSU-1</text><use href="#L10" x="2672" y="-8.4"/><text class="ll" x="2672.9" y="4.5">abcdefghij</text></g>
<g id="HF536772" transform="translate(0,67.7)"><text class="lt" x="2127.5" y="4.5">HF536772.1</text><text class="lt sp" x="2252.6" y="4.5">Rhizobium mesoamericanum</text><text class="lt" x="2475.2" y="4.5">STM3625</text><use href="#L8" x="2672" y="-8.4"/><text class="ll" x="2672.9" y="4.5">bcdefghi</text></g>
<g id="AEYE02000001" transform="translate(0,83.7)"><text class="lt" x="2127.5" y="4.5">AEYE02000001.1</text><text class="lt sp" x="2252.6" y="4.5">Rhizobium grahamii</text><text class="lt" x="2475.2" y="4.5">CCGE 502</text><use href="#L8" x="2672" y="-8.4"/><text class="ll" x="2672.9" y="4.5">bcdefghi</text></g>
<g id="CP003057" transform="translate(0,115.7)"><text class="lt bl" x="2127.5" y="4.5">CP003057.2</text><text class="lt sp bl" x="2252.6" y="4.5">Xanthomonas oryzae</text><text class="lt bl" x="2475.2" y="4.5">BLS256(reference)</text><use href="#L10" x="2672" y="-8.4"/><text class="ll" x="2672.9" y="4.5">abcdefghij</text></g>
<g id="AEYF01000001" transform="translate(0,131.7)"><text class="lt" x="2127.5" y="4.5">!?AEYF01000001.1</text><text class="lt sp" x="2252.6" y="4.5">Rhizobium sp.</text><text class="lt" x="2475.2" y="4.5">CCGE 510</text><use href="#Lk1" x="2672" y="-8.4"/><text class="ll" x="2672.9" y="4.5">bcdef hijk <tspan class="w">p</tspan></text></g>
<g id="FMAJ01000001" transform="translate(0,163.7)"><text class="lt" x="2127.5" y="4.5">!?FMAJ01000001.1</text><text class="lt sp" x="2252.6" y="4.5">Rhizobium sp.</text><text class="lt" x="2475.2" y="4.5">HBR26</text><use href="#Lk2" x="2672" y="-8.4"/><text class="ll" x="2672.9" y="4.5"><tspan class="w">p</tspan> k bcdef hij</text></g>
<g id="CP000133" transform="translate(0,179.7)"><text class="lt" x="2127.5" y="4.5">?CP000133.1</text><text class="lt sp" x="2252.6" y="4.5">Rhizobium etli</text><text class="lt" x="2475.2" y="4.5">CFN 42</text><use href="#Lk3" x="2672" y="-8.4"/><text class="ll" x="2672.9" y="4.5">bcdef hijk</text></g>
<g id="CP005950" transform="translate(0,227.7)"><text class="lt" x="2127.5" y="4.5">CP005950.1</text><text class="lt sp" x="2252.6" y="4.5">Rhizobium etli</text><text class="lt" x="2475.2" y="4.5">bv. mimosae str. Mim1</text><use href="#L8" x="2672" y="-8.4"/><text class="ll" x="2672.9" y="4.5">bcdefghi</text></g>
<g id="CP006986" transform="translate(0,243.7)"><text class="lt" x="2127.5" y="4.5">!CP006986.1</text><text class="lt sp" x="2252.6" y="4.5">Rhizobium etli</text><text class="lt" x="2475.2" y="4.5">bv. mimosae str. IE4771</text><use href="#LpB" x="2672" y="-8.4"/><text class="ll" x="2672.9" y="4.5"><tspan class="w">p</tspan> bcdefghi</text></g>
<g id="AJUI01000023" transform="translate(0,275.7)"><text class="lt" x="2127.5" y="4.5">AJUI01000023.1</text><text class="lt sp" x="2252.6" y="4.5">Rhizobium leguminosarum</text><text class="lt" x="2475.2" y="4.5">bv. trifolii CC278f</text><use href="#L8j" x="2672" y="-8.4"/><text class="ll" x="2672.9" y="4.5">bcdefghj</text></g>
<g id="ATYC01000007" transform="translate(0,307.7)"><text class="lt" x="2127.5" y="4.5">*ATYC01000007.1</text><text class="lt sp" x="2252.6" y="4.5">Sinorhizobium meliloti</text><text class="lt" x="2475.2" y="4.5">WSM4191</text><use href="#LA" x="2672" y="-8.4"/><text class="ll" x="2672.9" y="4.5">bcdefghija</text></g>
<g id="ATYO01000001" transform="translate(0,323.7)"><text class="lt" x="2127.5" y="4.5">ATYO01000001.1</text><text class="lt sp" x="2252.6" y="4.5">Mesorhizobium sp.</text><text class="lt" x="2475.2" y="4.5">WSM3224</text><use href="#L9" x="2672" y="-8.4"/><text class="ll" x="2672.9" y="4.5">bcdefghij</text></g>
<g id="ATTO01000001" transform="translate(0,355.7)"><text class="lt" x="2127.5" y="4.5">*ATTO01000001.1</text><text class="lt sp" x="2252.6" y="4.5">Rhizobium favelukesii</text><text class="lt" x="2475.2" y="4.5">OR191</text><use href="#LaB" x="2672" y="-8.4"/><text class="ll" x="2672.9" y="4.5">a bcdefghij</text></g>
<g id="AXBC01000011" transform="translate(0,371.7)"><text class="lt" x="2127.5" y="4.5">AXBC01000011.1</text><text class="lt sp" x="2252.6" y="4.5">Bradyrhizobium genosp.</text><text class="lt" x="2475.2" y="4.5">SA-4 str. CB756</text><use href="#Lx1" x="2672" y="-8.4"/><text class="ll" x="2672.9" y="4.5">bcefghi</text></g>
<g id="LJYF01000001" transform="translate(0,387.7)"><text class="lt" x="2127.5" y="4.5">!LJYF01000001.1</text><text class="lt sp" x="2252.6" y="4.5">Bradyrhizobium yuanmingense</text><text class="lt" x="2475.2" y="4.5">BR3267</text><use href="#Lx2" x="2672" y="-8.4"/><text class="ll" x="2672.9" y="4.5"><tspan class="w">p</tspan> bcefghi d</text></g>
<g id="FMAI01000001" transform="translate(0,419.7)"><text class="lt" x="2127.5" y="4.5">FMAI01000001.1</text><text class="lt sp" x="2252.6" y="4.5">Bradyrhizobium sp.</text><text class="lt" x="2475.2" y="4.5">ERR11</text><use href="#L8" x="2672" y="-8.4"/><text class="ll" x="2672.9" y="4.5">bcdefghi</text></g>
<g id="KB902768" transform="translate(0,435.7)"><text class="lt" x="2127.5" y="4.5">!KB902768.1</text><text class="lt sp" x="2252.6" y="4.5">Bradyrhizobium sp.</text><text class="lt" x="2475.2" y="4.5">WSM2793</text><use href="#LBp" x="2672" y="-8.4"/><text class="ll" x="2672.9" y="4.5">bcdefghi <tspan class="w">p</tspan></text></g>
<g id="AJQL01000001" transform="translate(0,483.7)"><text class="lt" x="2127.5" y="4.5">!AJQL01000001.1</text><text class="lt sp" x="2252.6" y="4.5">Bradyrhizobium yuanmingense</text><text class="lt" x="2475.2" y="4.5">CCBAU 35157</text><use href="#Lx3" x="2672" y="-8.4"/><text class="ll" x="2672.9" y="4.5">efghi <tspan class="w">p</tspan></text></g>
<g id="AXAZ01000001" transform="translate(0,499.7)"><text class="lt" x="2127.5" y="4.5">!AXAZ01000001.1</text><text class="lt sp" x="2252.6" y="4.5">Bradyrhizobium sp.</text><text class="lt" x="2475.2" y="4.5">WSM1743</text><use href="#Lx4" x="2672" y="-8.4"/><text class="ll" x="2672.9" y="4.5">cdef gh <tspan class="w">p</tspan></text></g>
<g id="KB890498" transform="translate(0,531.7)"><text class="lt" x="2127.5" y="4.5">!KB890498.1</text><text class="lt sp" x="2252.6" y="4.5">Bradyrhizobium sp.</text><text class="lt" x="2475.2" y="4.5">WSM4349</text><use href="#Lx5" x="2672" y="-8.4"/><text class="ll" x="2672.9" y="4.5"><tspan class="w">p</tspan> cd fghj</text></g>
<g id="CP003563" transform="translate(0,547.7)"><text class="lt" x="2127.5" y="4.5">!CP003563.1</text><text class="lt sp" x="2252.6" y="4.5">Sinorhizobium fredii</text><text class="lt" x="2475.2" y="4.5">USDA 257</text><use href="#Lx6" x="2672" y="-8.4"/><text class="ll" x="2672.9" y="4.5">cdfhij e <tspan class="w">p</tspan></text></g>
<g id="HE616890" transform="translate(0,579.7)"><text class="lt" x="2127.5" y="4.5">HE616890.1</text><text class="lt sp" x="2252.6" y="4.5">Sinorhizobium fredii</text><text class="lt" x="2475.2" y="4.5">HH103</text><use href="#Ld" x="2672" y="-8.4"/><text class="ll" x="2672.9" y="4.5">dfhij e</text></g>
<g id="AJQT01000001" transform="translate(0,595.7)"><text class="lt" x="2127.5" y="4.5">AJQT01000001.1</text><text class="lt sp" x="2252.6" y="4.5">Ensifer sojae</text><text class="lt" x="2475.2" y="4.5">CCBAU 05684</text><use href="#Ld" x="2672" y="-8.4"/><text class="ll" x="2672.9" y="4.5">dfhij e</text></g>
<g id="CP002447" transform="translate(0,627.7)"><text class="lt" x="2127.5" y="4.5">CP002447.1</text><text class="lt sp" x="2252.6" y="4.5">Mesorhizobium ciceri</text><text class="lt" x="2475.2" y="4.5">biovar biserrulae WSM1271</text><use href="#Lx7" x="2672" y="-8.4"/><text class="ll" x="2672.9" y="4.5">d fghij</text></g>
<g id="KB900701" transform="translate(0,643.7)"><text class="lt" x="2127.5" y="4.5">!KB900701.1</text><text class="lt sp" x="2252.6" y="4.5">Bradyrhizobium elkanii</text><text class="lt" x="2475.2" y="4.5">USDA 76</text><use href="#Lx8" x="2672" y="-8.4"/><text class="ll" x="2672.9" y="4.5">cefghi <tspan class="w">p</tspan></text></g>
<g id="AXBA01000001" transform="translate(0,659.7)"><text class="lt" x="2127.5" y="4.5">AXBA01000001.1</text><text class="lt sp" x="2252.6" y="4.5">Azorhizobium doebereinerae</text><text class="lt" x="2475.2" y="4.5">UFLA1-100</text><use href="#L8" x="2672" y="-8.4"/><text class="ll" x="2672.9" y="4.5">bcdefghi</text></g>
<g id="KI911771" transform="translate(0,675.7)"><text class="lt" x="2127.5" y="4.5">KI911771.1</text><text class="lt sp" x="2252.6" y="4.5">Rhizobium leguminosarum</text><text class="lt" x="2475.2" y="4.5">bv. trifolii CC283b</text><use href="#L8j" x="2672" y="-8.4"/><text class="ll" x="2672.9" y="4.5">bcdefghj</text></g>
<g id="LJYE01000001" transform="translate(0,707.7)"><text class="lt" x="2127.5" y="4.5">!LJYE01000001.1</text><text class="lt sp" x="2252.6" y="4.5">Bradyrhizobium pachyrhizi</text><text class="lt" x="2475.2" y="4.5">BR3262</text><use href="#Lx9" x="2672" y="-8.4"/><text class="ll" x="2672.9" y="4.5"><tspan class="w">p</tspan> bcde ghi</text></g>
<g id="LFIQ01000001" transform="translate(0,723.7)"><text class="lt" x="2127.5" y="4.5">!LFIQ01000001.1</text><text class="lt sp" x="2252.6" y="4.5">Bradyrhizobium pachyrhizi</text><text class="lt" x="2475.2" y="4.5">PAC 48</text><use href="#LpB" x="2672" y="-8.4"/><text class="ll" x="2672.9" y="4.5"><tspan class="w">p</tspan> bcdefghi</text></g>
<g id="LFIP02000001" transform="translate(0,771.7)"><text class="lt" x="2127.5" y="4.5">!LFIP02000001.1</text><text class="lt sp" x="2252.6" y="4.5">Bradyrhizobium embrapense</text><text class="lt" x="2475.2" y="4.5">SEMIA 6208</text><use href="#LBp" x="2672" y="-8.4"/><text class="ll" x="2672.9" y="4.5">bcdefghi <tspan class="w">p</tspan></text></g>
<g id="AXAU01000001" transform="translate(0,787.7)"><text class="lt" x="2127.5" y="4.5">!AXAU01000001.1</text><text class="lt sp" x="2252.6" y="4.5">Bradyrhizobium elkanii</text><text class="lt" x="2475.2" y="4.5">WSM1741</text><use href="#LpB" x="2672" y="-8.4"/><text class="ll" x="2672.9" y="4.5"><tspan class="w">p</tspan> bcdefghi</text></g>
<g id="AXAT01000001" transform="translate(0,819.7)"><text class="lt" x="2127.5" y="4.5">!AXAT01000001.1</text><text class="lt sp" x="2252.6" y="4.5">Bradyrhizobium japonicum</text><text class="lt" x="2475.2" y="4.5">USDA 135</text><use href="#LpC" x="2672" y="-8.4"/><text class="ll" x="2672.9" y="4.5"><tspan class="w">p</tspan>bcdefghi</text></g>
<g id="BA000040" transform="translate(0,851.7)"><text class="lt" x="2127.5" y="4.5">!BA000040.2</text><text class="lt sp" x="2252.6" y="4.5">Bradyrhizobium diazoefficiens</text><text class="lt" x="2475.2" y="4.5">USDA 110</text><use href="#LpC" x="2672" y="-8.4"/><text class="ll" x="2672.9" y="4.5"><tspan class="w">p</tspan>bcdefghi</text></g>
<g id="AP014659" transform="translate(0,867.7)"><text class="lt" x="2127.5" y="4.5">!AP014659.1</text><text class="lt sp" x="2252.6" y="4.5">Bradyrhizobium diazoefficiens</text><text class="lt" x="2475.2" y="4.5">NK6</text><use href="#LBp" x="2672" y="-8.4"/><text class="ll" x="2672.9" y="4.5">bcdefghi <tspan class="w">p</tspan></text></g>
<g id="CP015064" transform="translate(0,899.7)"><text class="lt" x="2127.5" y="4.5">!CP015064.1</text><text class="lt sp" x="2252.6" y="4.5">Mesorhizobium ciceri</text><text class="lt" x="2475.2" y="4.5">biovar biserrulae WSM1284</text><use href="#Lx10" x="2672" y="-8.4"/><text class="ll" x="2672.9" y="4.5">bcdefghij <tspan class="w">p</tspan></text></g>
<g id="AUFB01000001" transform="translate(0,915.7)"><text class="lt" x="2127.5" y="4.5">AUFB01000001.1</text><text class="lt sp" x="2252.6" y="4.5">Rhizobium leucaenae</text><text class="lt" x="2475.2" y="4.5">USDA 9039</text><use href="#L8" x="2672" y="-8.4"/><text class="ll" x="2672.9" y="4.5">bcdefghi</text></g>
<g id="CP006877" transform="translate(0,947.7)"><text class="lt" x="2127.5" y="4.5">CP006877.1</text><text class="lt sp" x="2252.6" y="4.5">Rhizobium gallicum</text><text class="lt" x="2475.2" y="4.5">bv. gallicum R602</text><use href="#L8" x="2672" y="-8.4"/><text class="ll" x="2672.9" y="4.5">bcdefghi</text></g>
<g id="AZYE01000987" transform="translate(0,963.7)"><text class="lt" x="2127.5" y="4.5">AZYE01000987.1</text><text class="lt sp" x="2252.6" y="4.5">Microvirga lupini</text><text class="lt" x="2475.2" y="4.5">Lut6</text><use href="#Lbd" x="2672" y="-8.4"/><text class="ll" x="2672.9" y="4.5">b defghij</text></g>
<g id="JFGO01000001" transform="translate(0,1011.7)"><text class="lt" x="2127.5" y="4.5">JFGO01000001.1</text><text class="lt sp" x="2252.6" y="4.5">Sinorhizobium americanum</text><text class="lt" x="2475.2" y="4.5">CCGM7</text><use href="#L8" x="2672" y="-8.4"/><text class="ll" x="2672.9" y="4.5">bcdefghi</text></g>
<g id="AQWP01000001" transform="translate(0,1027.7)"><text class="lt" x="2127.5" y="4.5">AQWP01000001.1</text><text class="lt sp" x="2252.6" y="4.5">Sinorhizobium meliloti</text><text class="lt" x="2475.2" y="4.5">4H41</text><use href="#Lbd" x="2672" y="-8.4"/><text class="ll" x="2672.9" y="4.5">b defghij</text></g>
<g id="AYVY01000001" transform="translate(0,1059.7)"><text class="lt" x="2127.5" y="4.5">AYVY01000001.1</text><text class="lt sp" x="2252.6" y="4.5">Mesorhizobium sp.</text><text class="lt" x="2475.2" y="4.5">LSHC420B00</text><use href="#L8j" x="2672" y="-8.4"/><text class="ll" x="2672.9" y="4.5">bcdefghj</text></g>
<g id="AYWZ01000001" transform="translate(0,1091.7)"><text class="lt" x="2127.5" y="4.5">AYWZ01000001.1</text><text class="lt sp" x="2252.6" y="4.5">Mesorhizobium sp.</text><text class="lt" x="2475.2" y="4.5">L2C066B000</text><use href="#L9" x="2672" y="-8.4"/><text class="ll" x="2672.9" y="4.5">bcdefghij</text></g>
<g id="AYVO01000001" transform="translate(0,1107.7)"><text class="lt" x="2127.5" y="4.5">AYVO01000001.1</text><text class="lt sp" x="2252.6" y="4.5">Mesorhizobium sp.</text><text class="lt" x="2475.2" y="4.5">LSJC268A00</text><use href="#L9" x="2672" y="-8.4"/><text class="ll" x="2672.9" y="4.5">bcdefghij</text></g>
<g id="AYWN01000001" transform="translate(0,1139.7)"><text class="lt" x="2127.5" y="4.5">AYWN01000001.1</text><text class="lt sp" x="2252.6" y="4.5">Mesorhizobium sp.</text><text class="lt" x="2475.2" y="4.5">LNJC372A00</text><use href="#L9" x="2672" y="-8.4"/><text class="ll" x="2672.9" y="4.5">bcdefghij</text></g>
<g id="AYXF01000001" transform="translate(0,1171.7)"><text class="lt" x="2127.5" y="4.5">AYXF01000001.1</text><text class="lt sp" x="2252.6" y="4.5">Mesorhizobium sp.</text><text class="lt" x="2475.2" y="4.5">L103C105A0</text><use href="#L9" x="2672" y="-8.4"/><text class="ll" x="2672.9" y="4.5">bcdefghij</text></g>
<g id="AYVX01000001" transform="translate(0,1187.7)"><text class="lt" x="2127.5" y="4.5">AYVX01000001.1</text><text class="lt sp" x="2252.6" y="4.5">Mesorhizobium sp.</text><text class="lt" x="2475.2" y="4.5">LSHC422A00</text><use href="#L9" x="2672" y="-8.4"/><text class="ll" x="2672.9" y="4.5">bcdefghij</text></g>
<g id="AYVP01000001" transform="translate(0,1219.7)"><text class="lt" x="2127.5" y="4.5">AYVP01000001.1</text><text class="lt sp" x="2252.6" y="4.5">Mesorhizobium sp.</text><text class="lt" x="2475.2" y="4.5">LSJC265A00</text><use href="#L9" x="2672" y="-8.4"/><text class="ll" x="2672.9" y="4.5">bcdefghij</text></g>
<g id="AYWU01000001" transform="translate(0,1235.7)"><text class="lt" x="2127.5" y="4.5">AYWU01000001.1</text><text class="lt sp" x="2252.6" y="4.5">Mesorhizobium sp.</text><text class="lt" x="2475.2" y="4.5">L48C026A00</text><use href="#L9" x="2672" y="-8.4"/><text class="ll" x="2672.9" y="4.5">bcdefghij</text></g>
<g id="AP003017" transform="translate(0,1251.7)"><text class="lt" x="2127.5" y="4.5">*AP003017.1</text><text class="lt sp" x="2252.6" y="4.5">Mesorhizobium loti</text><text class="lt" x="2475.2" y="4.5">MAFF303099</text><use href="#LaB" x="2672" y="-8.4"/><text class="ll" x="2672.9" y="4.5">a bcdefghij</text></g>
<g id="ATTQ01000001" transform="translate(0,1267.7)"><text class="lt" x="2127.5" y="4.5">*ATTQ01000001.1</text><text class="lt sp" x="2252.6" y="4.5">Rhizobium mongolense</text><text class="lt" x="2475.2" y="4.5">USDA 1844</text><use href="#LaB" x="2672" y="-8.4"/><text class="ll" x="2672.9" y="4.5">a bcdefghij</text></g>
<g id="JH600072" transform="translate(0,1283.7)"><text class="lt" x="2127.5" y="4.5">!JH600072.1</text><text class="lt sp" x="2252.6" y="4.5">Bradyrhizobium sp.</text><text class="lt" x="2475.2" y="4.5">WSM1253</text><use href="#LBp" x="2672" y="-8.4"/><text class="ll" x="2672.9" y="4.5">bcdefghi <tspan class="w">p</tspan></text></g>
<g id="AZUY01000001" transform="translate(0,1299.7)"><text class="lt" x="2127.5" y="4.5">*AZUY01000001.1</text><text class="lt sp" x="2252.6" y="4.5">Mesorhizobium sp.</text><text class="lt" x="2475.2" y="4.5">WSM3626</text><use href="#Lx11" x="2672" y="-8.4"/><text class="ll" x="2672.9" y="4.5">a bcdefghj</text></g>
<g id="KI911783" transform="translate(0,1331.7)"><text class="lt" x="2127.5" y="4.5">!KI911783.1</text><text class="lt sp" x="2252.6" y="4.5">Bradyrhizobium sp.</text><text class="lt" x="2475.2" y="4.5">WSM1417</text><use href="#Lx12" x="2672" y="-8.4"/><text class="ll" x="2672.9" y="4.5">bcdefghj <tspan class="w">p</tspan></text></g>
<g id="AUFA01000001" transform="translate(0,1347.7)"><text class="lt" x="2127.5" y="4.5">!AUFA01000001.1</text><text class="lt sp" x="2252.6" y="4.5">Bradyrhizobium sp.</text><text class="lt" x="2475.2" y="4.5">Cp5.3</text><use href="#LpB" x="2672" y="-8.4"/><text class="ll" x="2672.9" y="4.5"><tspan class="w">p</tspan> bcdefghi</text></g>
<g id="AXAB01000001" transform="translate(0,1395.7)"><text class="lt" x="2127.5" y="4.5">!?AXAB01000001.1</text><text class="lt sp" x="2252.6" y="4.5">Bradyrhizobium sp.</text><text class="lt" x="2475.2" y="4.5">WSM2254</text><use href="#Lx13" x="2672" y="-8.4"/><text class="ll" x="2672.9" y="4.5">k bcdefhi <tspan class="w">p</tspan></text></g>
<g id="AXAY01000001" transform="translate(0,1411.7)"><text class="lt" x="2127.5" y="4.5">?AXAY01000001.1</text><text class="lt sp" x="2252.6" y="4.5">Bradyrhizobium sp.</text><text class="lt" x="2475.2" y="4.5">WSM3983</text><use href="#Lx14" x="2672" y="-8.4"/><text class="ll" x="2672.9" y="4.5">bcdef hik</text></g>
<g id="LYTO01000001" transform="translate(0,1443.7)"><text class="lt" x="2127.5" y="4.5">*LYTO01000001.1</text><text class="lt sp" x="2252.6" y="4.5">Mesorhizobium sp.</text><text class="lt" x="2475.2" y="4.5">AA22</text><use href="#L10" x="2672" y="-8.4"/><text class="ll" x="2672.9" y="4.5">abcdefghij</text></g>
<g id="LATE01000001" transform="translate(0,1475.7)"><text class="lt" x="2127.5" y="4.5">LATE01000001.1</text><text class="lt sp" x="2252.6" y="4.5">Sinorhizobium sp.</text><text class="lt" x="2475.2" y="4.5">PC2</text><use href="#Lx15" x="2672" y="-8.4"/><text class="ll" x="2672.9" y="4.5">bcdefghi hi</text></g>
<g id="CP000874" transform="translate(0,1491.7)"><text class="lt" x="2127.5" y="4.5">CP000874.1</text><text class="lt sp" x="2252.6" y="4.5">Sinorhizobium fredii</text><text class="lt" x="2475.2" y="4.5">NGR234</text><use href="#L8" x="2672" y="-8.4"/><text class="ll" x="2672.9" y="4.5">bcdefghi</text></g>
<g id="AZUW01000001" transform="translate(0,1539.7)"><text class="lt" x="2127.5" y="4.5">*AZUW01000001.1</text><text class="lt sp" x="2252.6" y="4.5">Ensifer sp.</text><text class="lt" x="2475.2" y="4.5">WSM1721</text><use href="#Lx16" x="2672" y="-8.4"/><text class="ll" x="2672.9" y="4.5">bcdefghi a</text></g>
<g id="ATYB01000007" transform="translate(0,1555.7)"><text class="lt" x="2127.5" y="4.5">*ATYB01000007.1</text><text class="lt sp" x="2252.6" y="4.5">Sinorhizobium arboris</text><text class="lt" x="2475.2" y="4.5">LMG 14919</text><use href="#Lx17" x="2672" y="-8.4"/><text class="ll" x="2672.9" y="4.5">a bcdefg i</text></g>
<g id="AUGA01000001" transform="translate(0,1603.7)"><text class="lt" x="2127.5" y="4.5">!AUGA01000001.1</text><text class="lt sp" x="2252.6" y="4.5">Bradyrhizobium sp.</text><text class="lt" x="2475.2" y="4.5">th.b2</text><use href="#LBp" x="2672" y="-8.4"/><text class="ll" x="2672.9" y="4.5">bcdefghi <tspan class="w">p</tspan></text></g>
<g id="AGSN01000001" transform="translate(0,1619.7)"><text class="lt" x="2127.5" y="4.5">AGSN01000001.1</text><text class="lt sp" x="2252.6" y="4.5">Mesorhizobium amorphae</text><text class="lt" x="2475.2" y="4.5">CCNWGS0123</text><use href="#L9" x="2672" y="-8.4"/><text class="ll" x="2672.9" y="4.5">bcdefghij</text></g>
<g id="AHAM01000001" transform="translate(0,1651.7)"><text class="lt" x="2127.5" y="4.5">AHAM01000001.1</text><text class="lt sp" x="2252.6" y="4.5">Mesorhizobium alhagi</text><text class="lt" x="2475.2" y="4.5">CCNWXJ12-2</text><use href="#L9" x="2672" y="-8.4"/><text class="ll" x="2672.9" y="4.5">bcdefghij</text></g>
<g id="scale">
<path d="M1,1660V1666M1,1663H50M50,1660V1666" stroke="#000" stroke-width="1" fill="none"/>
<text class="nt" x="1" y="1682" font-weight="bold">0.11</text>
</g>
</svg>
